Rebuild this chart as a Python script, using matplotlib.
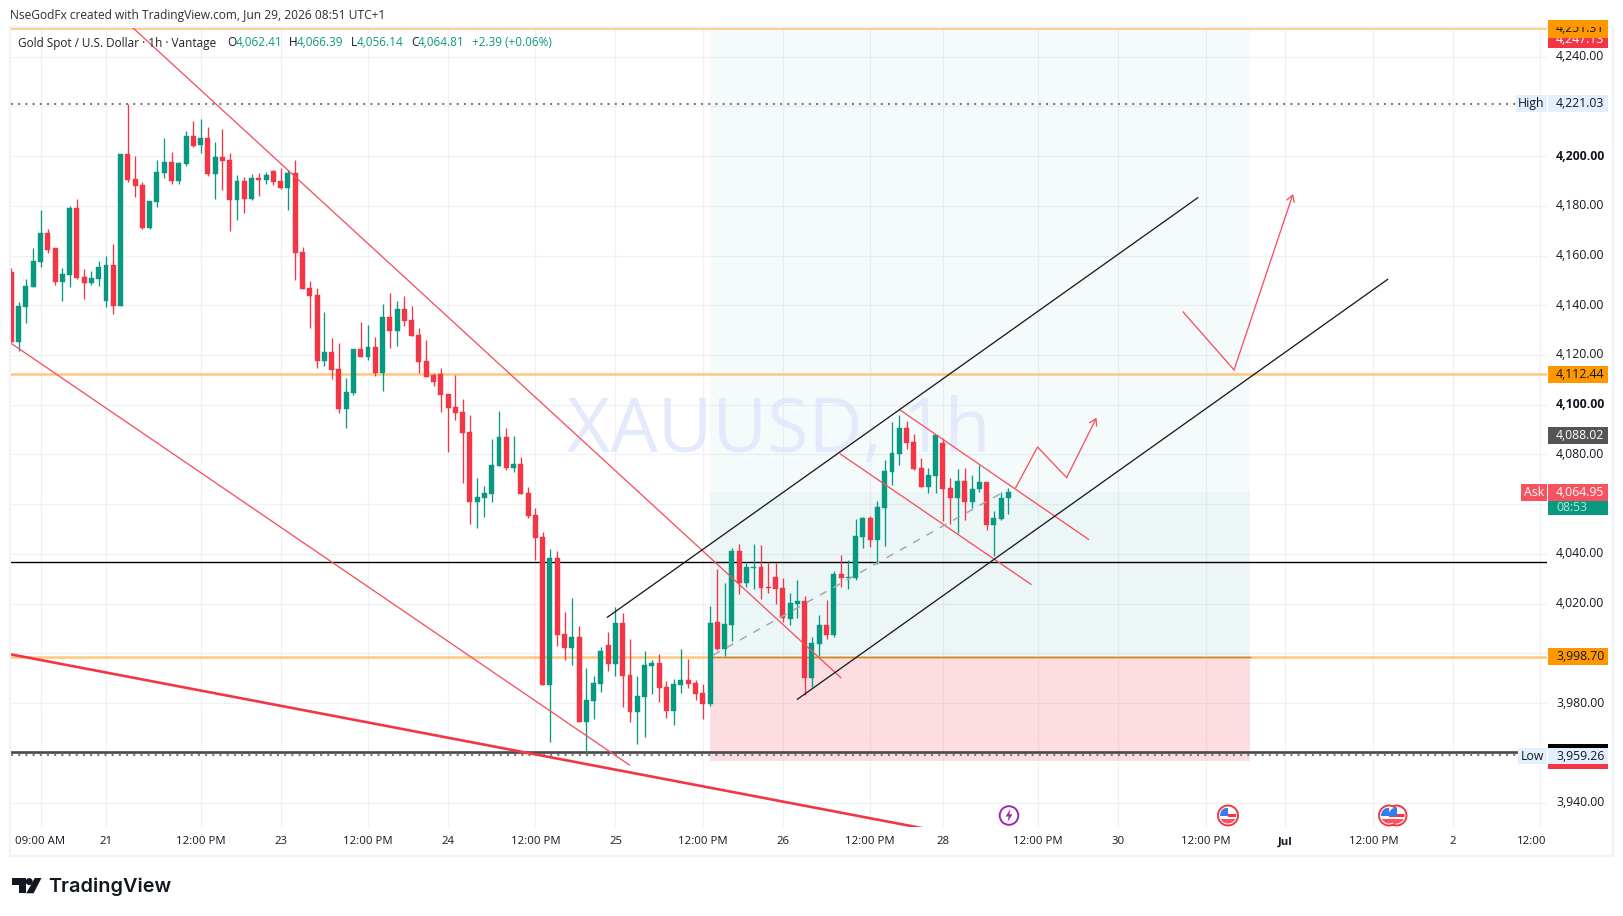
import matplotlib
matplotlib.use("Agg")
import matplotlib.pyplot as plt
from matplotlib.patches import Rectangle, Circle, Polygon
from matplotlib.transforms import ScaledTranslation

opens = [4153.2,4125.4,4139.4,4147.5,4157.5,4169.0,4163.0,4149.3,4152.2,4179.1,
4151.2,4149.1,4150.5,4141.7,4156.2,4139.8,4200.8,4190.7,4188.3,4171.0,
4181.6,4193.3,4197.6,4189.9,4196.9,4208.0,4204.5,4207.2,4192.9,4199.6,
4198.4,4182.3,4189.9,4182.7,4191.1,4190.3,4193.9,4189.9,4187.1,4193.2,
4161.4,4146.9,4144.1,4117.6,4121.2,4114.4,4098.3,4104.7,4122.4,4119.2,
4123.2,4112.7,4135.3,4129.6,4138.5,4134.1,4128.0,4117.6,4111.9,4112.4,
4104.3,4099.1,4097.1,4089.0,4061.0,4062.6,4064.2,4075.5,4087.0,4074.7,
4076.2,4064.5,4055.7,4046.8,3987.5,4038.4,4007.8,4002.3,4006.6,3972.6,
3981.0,3987.9,4003.4,3995.9,4012.3,3991.3,3976.5,3982.5,3995.0,3996.2,
3986.5,3976.9,3987.3,3989.3,3988.1,3984.1,3979.7,4012.7,4001.8,4011.4,
4041.2,4028.3,4034.4,4034.8,4026.7,4030.7,4026.3,4013.9,4019.9,4021.1,
3990.1,4003.8,4011.4,4007.4,4031.9,4030.3,4030.3,4046.8,4054.5,4045.6,
4058.5,4072.9,4080.2,4090.6,4085.0,4074.6,4066.9,4071.3,4084.6,4066.5,
4062.5,4069.3,4060.9,4066.1,4068.9,4051.7,4054.1,4062.41]
closes = [4125.4,4139.7,4147.7,4157.8,4169.0,4162.2,4149.3,4152.6,4179.1,4150.9,
4149.1,4150.9,4155.4,4156.2,4139.8,4200.8,4190.3,4188.1,4171.0,4181.9,
4193.6,4197.6,4189.9,4197.2,4208.0,4204.1,4207.2,4192.7,4199.6,4198.0,
4182.3,4189.9,4182.7,4191.1,4190.3,4192.4,4189.5,4187.1,4193.2,4161.0,
4146.5,4143.7,4117.6,4121.2,4113.9,4098.3,4105.1,4122.4,4119.2,4123.2,
4112.7,4135.3,4129.6,4138.5,4133.6,4127.6,4117.2,4111.2,4109.1,4103.9,
4098.7,4096.7,4088.8,4061.0,4062.9,4064.4,4075.8,4087.0,4074.7,4076.2,
4064.2,4055.4,4046.6,3987.5,4038.4,4007.6,4002.3,4006.6,3972.6,3981.3,
3988.1,4001.0,3995.9,4012.3,3990.9,3976.5,3982.9,3995.4,3996.2,3986.1,
3976.9,3987.7,3989.3,3987.7,3983.7,3979.7,4012.3,4001.8,4011.9,4041.2,
4028.3,4034.8,4034.8,4026.3,4026.3,4025.9,4014.3,4020.3,4021.1,3990.1,
4004.2,4011.4,4007.4,4031.9,4030.3,4030.7,4047.2,4054.5,4045.6,4058.9,
4073.4,4080.6,4090.6,4084.6,4074.2,4066.9,4071.7,4087.8,4066.1,4062.5,
4069.3,4060.9,4066.1,4068.9,4051.7,4054.5,4062.5,4064.81]
highs = [4154.8,4141.4,4150.4,4162.9,4178.3,4170.6,4163.0,4154.8,4179.9,4182.7,
4154.4,4153.9,4157.8,4159.8,4164.6,4200.8,4220.9,4200.0,4189.7,4181.9,
4198.4,4207.2,4201.6,4197.6,4210.0,4214.0,4214.9,4211.6,4205.6,4210.8,
4201.2,4192.4,4191.5,4192.7,4193.1,4193.6,4194.4,4195.2,4194.4,4198.4,
4163.4,4149.7,4146.9,4137.3,4126.8,4124.8,4110.7,4122.4,4133.3,4132.0,
4127.2,4140.5,4144.9,4141.7,4143.7,4139.7,4130.8,4126.0,4112.7,4114.8,
4104.3,4111.9,4102.3,4095.9,4070.5,4067.3,4086.2,4097.5,4090.6,4087.4,
4079.0,4066.9,4058.5,4048.8,4042.0,4041.2,4016.7,4022.3,4011.0,3994.3,
3990.9,4002.6,4008.6,4018.7,4016.3,4005.8,3990.9,4001.0,3997.4,3999.8,
3989.0,3989.7,4001.8,3997.8,3989.3,3987.7,4019.1,4034.0,4028.3,4042.4,
4044.0,4036.8,4044.0,4043.6,4036.8,4036.4,4030.3,4024.3,4029.5,4023.1,
4006.6,4015.5,4021.5,4033.2,4039.6,4037.6,4054.1,4054.9,4055.3,4061.3,
4077.8,4093.1,4095.9,4093.5,4088.2,4078.6,4074.6,4087.8,4086.6,4070.5,
4074.2,4074.6,4071.7,4075.8,4068.9,4057.3,4064.9,4066.39]
lows = [4125.4,4121.7,4133.0,4147.5,4155.5,4161.1,4148.1,4141.8,4147.5,4150.4,
4142.6,4148.1,4147.9,4139.4,4136.5,4139.8,4189.7,4183.6,4170.8,4170.8,
4179.6,4191.1,4188.9,4188.9,4196.1,4203.7,4201.3,4192.1,4182.7,4186.3,
4170.0,4174.3,4177.1,4182.3,4184.0,4188.7,4188.3,4186.7,4178.3,4150.3,
4146.5,4130.9,4114.8,4115.6,4110.3,4096.7,4090.6,4103.9,4119.2,4118.0,
4111.6,4105.5,4122.8,4123.6,4131.6,4127.6,4112.7,4111.2,4107.5,4097.1,
4081.0,4093.9,4068.7,4052.0,4050.6,4055.0,4061.0,4075.5,4073.9,4073.1,
4064.2,4054.6,4037.6,3987.5,3964.5,4003.1,3997.5,3995.5,3972.6,3959.6,
3973.7,3984.5,3993.1,3991.1,3978.5,3972.5,3963.6,3966.4,3983.7,3980.5,
3974.1,3971.2,3984.1,3986.1,3981.3,3973.7,3978.9,4001.4,3999.0,4005.0,
4023.9,4026.7,4025.9,4021.9,4024.3,4019.9,4012.7,4011.4,4014.3,3983.3,
3986.5,3999.0,4005.8,4006.6,4026.7,4025.9,4029.5,4042.4,4042.8,4036.0,
4043.2,4067.7,4075.8,4082.2,4073.8,4066.9,4064.5,4064.5,4053.3,4052.0,
4048.4,4053.7,4058.5,4064.9,4049.6,4039.2,4053.7,4056.14]

price_ticks = [3940,3960,3980,4000,4020,4040,4060,4080,4100,4120,4140,4160,4180,4200,4220,4240]
price_labels = ['3,940.00','','3,980.00','','4,020.00','4,040.00','','4,080.00','4,100.00','4,120.00',
                '4,140.00','4,160.00','4,180.00','4,200.00','','4,240.00']
time_ticks = [4,13,26,37,49,60,72,83,95,106,118,128,141.1,152.1,164.1,175.05,187.15,198.1,210.1]
time_labels = ['09:00 AM','21','12:00 PM','23','12:00 PM','24','12:00 PM','25','12:00 PM','26','12:00 PM',
               '28','12:00 PM','30','12:00 PM','Jul','12:00 PM','2','12:00']

orange_levels = [4251.31, 4112.44, 3998.70]
black_level = 4036.8
dark_level = 3960.5
high_level = 4221.03
low_level = 3959.26

red_thin = [((16.57,4251.86),(113.96,3990.3)),
            ((-0.1,4124.8),(84.9,3955.2)),
            ((122.1,4097.9),(148.0,4045.9)),
            ((113.9,4080.2),(140.1,4027.8))]
red_thick = ((-0.15,3999.7),(125.3,3929.7))
black_channel = [((81.9,4014.6),(163.0,4183.2)),
                 ((108.0,3981.6),(189.1,4150.4))]
entry_path = ((96.45,3999.4),(136.8,4065.7))
arrow_a = [(138.0,4066.7),(141.0,4083.0),(145.0,4070.7),(149.1,4094.8)]
arrow_b = [(161.0,4137.3),(168.0,4114.0),(176.1,4184.7)]
position = dict(x0=96.0, x1=170.2, top=4251.31, mid=4064.81, entry=3998.70, stop=3956.9)

FONT = 'Open Sans'
plt.rcParams['font.family'] = [FONT, 'DejaVu Sans']
RED, GREEN = '#f23645', '#089981'
INK = '#131722'
W, H = 1623, 916
fig = plt.figure(figsize=(W/100, H/100), dpi=100, facecolor='white')
PL, PR, PT, PB = 10.5, 1547, 27, 827
ax = fig.add_axes([PL/W, (H-PB)/H, (PR-PL)/W, (PB-PT)/H], facecolor='white')
ax.set_xlim(-0.124, 211.0)
ax.set_ylim(3930.25, 4251.86)
for s in ax.spines.values():
    s.set_visible(False)
ax.yaxis.tick_right()
ax.set_yticks(price_ticks)
ax.set_yticklabels(price_labels, fontsize=8.8, color=INK)
ax.set_xticks(time_ticks)
ax.set_xticklabels(time_labels, fontsize=8.2, color=INK)
ax.tick_params(axis='both', length=0)
ax.tick_params(axis='y', pad=6.5)
ax.tick_params(axis='x', pad=6.7)
ax.grid(True, color='#f0f1f4', lw=0.9, zorder=0)
ax.set_axisbelow(True)
up = ScaledTranslation(0, 1.5/100, fig.dpi_scale_trans)
for t in ax.get_yticklabels():
    t.set_transform(t.get_transform() + up)
    if t.get_text() in ('4,200.00', '4,100.00'):
        t.set_fontweight('bold')
for t in ax.get_xticklabels():
    if t.get_text() == 'Jul':
        t.set_fontweight('bold')
last = ax.get_xticklabels()[-1]
last.set_transform(last.get_transform() + ScaledTranslation(-9/100, 0, fig.dpi_scale_trans))

# position tool
ax.add_patch(Rectangle((position['x0'], position['mid']), position['x1']-position['x0'],
                       position['top']-position['mid'], fc=(5/255,160/255,170/255,.04), ec='none', zorder=1))
ax.add_patch(Rectangle((position['x0'], position['entry']), position['x1']-position['x0'],
                       position['mid']-position['entry'], fc=(17/255,142/255,155/255,.08), ec='none', zorder=1))
ax.add_patch(Rectangle((position['x0'], position['stop']), position['x1']-position['x0'],
                       position['entry']-position['stop'], fc=(242/255,54/255,69/255,.16), ec='none', zorder=1))

# horizontal levels
for lv in orange_levels:
    ax.axhline(lv, color='#ffc77d', lw=1.8, zorder=2)
ax.plot([position['x0'], position['x1']], [position['entry']]*2, color='#c08a33', lw=1.0, zorder=2.1)
ax.axhline(black_level, color='black', lw=1.0, zorder=2)
ax.axhline(dark_level, color='#4a4a4a', lw=1.9, zorder=2)
for lv in (high_level, low_level):
    ax.axhline(lv, color='#787b86', lw=1.5, ls=(0, (1, 2.45)), zorder=2)

# watermark sits under the candles
ax.annotate('XAUUSD, 1h', xy=(779/W, (H-433)/H), xycoords='figure fraction', ha='center', va='center',
            fontsize=54, color='#dfe7fb', alpha=0.85, zorder=1.5)

# candles
xs = list(range(len(opens)))
colors = [GREEN if c >= o else RED for o, c in zip(opens, closes)]
ax.vlines(xs, lows, highs, colors=colors, lw=0.95, zorder=3)
ax.bar(xs, [abs(c-o) for o, c in zip(opens, closes)], bottom=[min(o, c) for o, c in zip(opens, closes)],
       width=0.68, color=colors, edgecolor=colors, linewidth=0.3, zorder=3.1)

# drawings
for (a, b) in red_thin:
    ax.plot([a[0], b[0]], [a[1], b[1]], color='#f4525f', lw=0.95, zorder=5)
ax.plot([red_thick[0][0], red_thick[1][0]], [red_thick[0][1], red_thick[1][1]], color=RED, lw=1.9, zorder=5)
for (a, b) in black_channel:
    ax.plot([a[0], b[0]], [a[1], b[1]], color='#1c1c1c', lw=0.95, zorder=5)
ax.plot([entry_path[0][0], entry_path[1][0]], [entry_path[0][1], entry_path[1][1]], color='#a6a8ad',
        lw=1.1, ls=(0, (5, 5)), zorder=5)
for path in (arrow_a, arrow_b):
    ax.plot([p[0] for p in path[:-1]], [p[1] for p in path[:-1]], color='#f4525f', lw=0.95, zorder=5)
    ax.annotate('', xy=path[-1], xytext=path[-2], zorder=5,
                arrowprops=dict(arrowstyle='->,head_length=0.45,head_width=0.28', color='#f4525f',
                                lw=0.95, shrinkA=0, shrinkB=0, mutation_scale=10))

# overlay in figure pixels
ov = fig.add_axes([0, 0, 1, 1], facecolor='none')
ov.set_xlim(0, W)
ov.set_ylim(H, 0)
ov.axis('off')


def txt(x, y, s, size=8.8, color=INK, ha='left', va='center', **kw):
    return ov.text(x, y, s, fontsize=size, color=color, ha=ha, va=va, **kw)


def box(x0, y0, x1, y1, color, z=2):
    ov.add_patch(Rectangle((x0, y0), x1-x0, y1-y0, fc=color, ec='none', zorder=z))


# header and legend
txt(10, 16, 'NseGodFx created with TradingView.com, Jun 29, 2026 08:51 UTC+1', size=8.65, color='#2a2e39')
txt(18, 43, 'Gold Spot / U.S. Dollar · 1h · Vantage', size=8.5, color='#222')
TEAL = '#089981'
for x, s, c in [(227.5, 'O', INK), (236, '4,062.41', TEAL), (289, 'H', INK), (297, '4,066.39', TEAL),
                (351, 'L', INK), (357, '4,056.14', TEAL), (411, 'C', INK), (418, '4,064.81', TEAL),
                (472, '+2.39 (+0.06%)', TEAL)]:
    txt(x, 43, s, size=8.5, color=c)

# price labels
BX0, BX1 = 1548, 1607.7
TX = 1556
clip = Rectangle((0, 27), W, 800, transform=ov.transData)


def label(y, s, fc, tc, h=17, z=3, **kw):
    ov.add_patch(Rectangle((BX0, y-h/2), BX1-BX0, h, fc=fc, ec='none', zorder=z, clip_path=clip))
    t = txt(TX, y, s, color=tc, zorder=z+0.1, **kw)
    t.set_clip_on(True)
    t.set_clip_path(clip)
    return t


label(39.5, '4,247.13', RED, 'white', h=17, z=3)
label(28.5, '4,251.31', '#ff9800', INK, h=18, z=4)
label(374.5, '4,112.44', '#ff9800', INK)
label(435.5, '4,088.02', '#555555', 'white')
box(BX0, 492, BX1, 514.5, GREEN, z=3)
label(492.5, '4,064.95', '#f7525f', 'white', z=3.2)
txt(TX, 507.5, '08:53', color='#b7e3da', zorder=3.5)
box(1521, 484, 1546.5, 501, '#f7525f', z=3)
txt(1533.7, 492.5, 'Ask', color='white', ha='center', zorder=3.5)
label(656.7, '3,998.70', '#ff9800', INK)
box(BX0, 752, BX1, 768.7, RED, z=3)
box(BX0, 744, BX1, 760, 'black', z=3.1)
label(756, '3,959.26', '#e3effd', INK, h=16, z=3.2)
box(1518, 748, 1546.5, 764, '#e3effd', z=3)
txt(1532, 756, 'Low', color=INK, ha='center', zorder=3.5)
label(103.7, '4,221.03', '#e3effd', INK, z=3)
box(1516, 95.2, 1546.5, 112.2, '#e3effd', z=3)
txt(1531, 103.7, 'High', color=INK, ha='center', zorder=3.5)

# pane frame
ov.add_patch(Rectangle((9.5, 27), 1603.5, 829, fc='none', ec='#f0f3fa', lw=1.5, zorder=1))

# event icons
ring = Circle((1009, 815.5), 9.3, fc='white', ec='#9c27b0', lw=1.4, zorder=5)
ov.add_patch(ring)
ov.add_patch(Polygon([(1010.5, 809), (1005.5, 816.5), (1008.7, 816.5), (1007.5, 822),
                      (1012.5, 814.3), (1009.3, 814.3)], fc='#9c27b0', ec='none', zorder=6))


def flag(cx, cy=815.5, r=10):
    c = Circle((cx, cy), r, fc='white', ec=RED, lw=1.4, zorder=5)
    ov.add_patch(c)
    inner = Circle((cx, cy), r-2, transform=ov.transData)
    parts = [Rectangle((cx-8, cy-8), 16, 16, fc='white', ec='none', zorder=5.1),
             Rectangle((cx-8, cy-7.5), 8, 8, fc='#2f80ed', ec='none', zorder=5.3),
             Rectangle((cx, cy-1.5), 8, 3, fc=RED, ec='none', zorder=5.2),
             Rectangle((cx-8, cy+3.5), 16, 4.5, fc='#f7525f', ec='none', zorder=5.2)]
    for p in parts:
        ov.add_patch(p)
        p.set_clip_path(inner)


flag(1228)
flag(1396.5)
flag(1389)

# logo
logo = '#131722'
ov.add_patch(Polygon([(12, 878), (25.7, 878), (25.7, 893.3), (18.7, 893.3), (18.7, 884.8), (12, 884.8)],
                     fc=logo, ec='none'))
ov.add_patch(Circle((29.2, 881.6), 3.5, fc=logo, ec='none'))
ov.add_patch(Polygon([(34.8, 878), (41.5, 878), (33.6, 893.3), (26.2, 893.3)], fc=logo, ec='none'))
txt(48.5, 886.5, 'TradingView', size=14.3, color=logo, family='Inter', fontweight='semibold')

fig.savefig('out.png', dpi=100, facecolor='white')
